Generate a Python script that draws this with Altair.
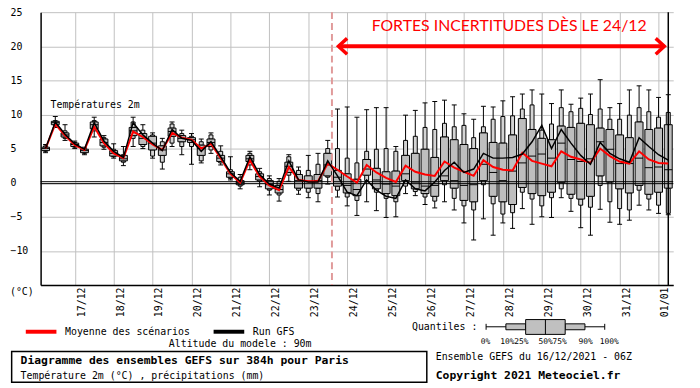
import altair as alt
import pandas as pd

# time steps (hours after 16/12/2021 06Z)
hours = list(range(0, 385, 6))

q_min = [4.4, 8.1, 6.2, 5.0, 4.1, 6.7, 4.9, 3.6, 2.5, 5.3,
         5.0, 3.6, 2.0, 5.3, 4.1, 2.7, 2.9, 4.3, 2.6, 0.4,
         -0.9, 1.9, -0.6, -1.8, -2.7, 0.2, -1.7, -2.2, -2.8, -0.2,
         -2.1, -3.4, -4.8, -2.8, -4.1, -5.1, -5.0, -1.6, -1.9, -3.2,
         -3.7, -2.8, -4.0, -5.9, -8.4, -5.3, -7.7, -5.9, -6.7, -3.8,
         -6.1, -5.0, -5.1, -2.2, -4.2, -6.6, -7.7, -3.9, -5.8, -6.1,
         -5.5, -3.3, -4.0, -4.5, -4.7]
q10 = [4.6, 8.4, 6.5, 5.2, 4.3, 7.6, 5.2, 3.8, 3.0, 6.5,
       5.3, 3.9, 3.0, 5.8, 5.3, 5.3, 3.2, 4.8, 2.9, 0.6,
       -0.5, 2.6, 0.2, -1.1, -1.8, 1.1, -1.1, -1.4, -1.6, 0.8,
       -1.1, -2.1, -2.6, 0.3, -1.4, -2.3, -2.8, -0.5, -1.3, -2.1,
       -2.7, -0.3, -2.3, -3.4, -4.0, -0.3, -3.1, -4.6, -4.4, -1.4,
       -2.4, -3.4, -2.2, -0.9, -2.3, -3.3, -3.6, -0.4, -2.8, -3.8,
       -4.0, -1.1, -2.4, -3.3, -4.5]
q25 = [4.7, 8.5, 6.7, 5.3, 4.4, 7.9, 5.4, 3.9, 3.2, 6.9,
       5.6, 4.8, 4.0, 6.8, 6.0, 5.9, 4.0, 5.3, 3.1, 0.8,
       -0.3, 3.1, 0.4, -0.9, -1.5, 1.5, -0.8, -0.8, -0.8, 1.0,
       -0.5, -1.5, -1.9, 1.1, -0.9, -1.6, -1.9, 0.3, -0.9, -1.6,
       -2.0, 0.3, -0.8, -2.6, -2.8, 0.3, -2.0, -2.8, -3.2, -0.7,
       -1.6, -1.9, -1.4, 0.0, -1.7, -2.4, -2.0, 1.0, 0.1, -0.9,
       -1.5, -0.4, -1.7, -1.4, -0.8]
q50 = [5.0, 8.8, 7.0, 5.6, 4.7, 8.5, 5.9, 4.3, 3.5, 7.6,
       6.5, 5.8, 4.8, 7.5, 6.5, 6.3, 5.0, 5.9, 3.6, 1.3,
       0.0, 3.5, 0.9, -0.3, -1.0, 2.4, 0.3, 0.2, 0.3, 2.6,
       0.8, -0.4, -1.0, 2.0, 0.4, -0.2, -0.5, 1.3, 0.1, -0.5,
       -0.4, 1.0, 0.3, -0.4, -0.3, 2.7, 1.5, 0.3, 1.7, 2.9,
       3.9, 4.2, 3.6, 5.8, 3.4, 3.1, 3.5, 6.0, 4.9, 2.8,
       2.8, 3.6, 2.2, 2.3, 1.9]
q75 = [5.2, 9.0, 7.3, 5.8, 4.9, 8.9, 6.4, 4.7, 4.0, 8.1,
       7.2, 6.8, 5.4, 8.0, 6.9, 6.6, 5.5, 6.4, 4.0, 1.6,
       0.3, 4.0, 1.3, 0.3, -0.4, 3.0, 1.2, 1.0, 1.2, 4.3,
       1.8, 1.3, 0.5, 3.4, 2.1, 1.6, 1.7, 4.0, 4.3, 4.9,
       3.7, 6.7, 6.3, 5.6, 5.0, 7.3, 5.9, 5.8, 7.0, 9.4,
       7.8, 6.5, 6.3, 8.3, 8.1, 8.7, 8.5, 8.0, 7.8, 7.0,
       6.6, 8.9, 7.8, 8.0, 8.5]
q90 = [5.4, 9.1, 7.6, 5.9, 5.0, 9.1, 6.6, 4.9, 4.1, 8.9,
       7.7, 7.0, 6.0, 8.6, 7.2, 6.8, 6.0, 7.0, 4.6, 1.9,
       0.8, 4.3, 1.6, 0.6, 0.2, 3.8, 1.8, 1.8, 2.7, 5.0,
       5.0, 3.6, 2.9, 4.6, 4.9, 5.0, 4.6, 6.2, 6.8, 8.1,
       7.8, 8.7, 8.2, 8.4, 6.6, 8.2, 9.3, 9.7, 9.8, 10.8,
       11.4, 7.7, 8.6, 11.0, 10.4, 10.9, 10.0, 10.8, 9.3, 9.3,
       9.9, 11.0, 10.4, 9.6, 10.3]
q_max = [5.6, 9.7, 8.5, 6.1, 5.2, 9.6, 6.9, 5.7, 5.3, 9.6,
         8.5, 7.3, 6.5, 8.9, 7.7, 7.2, 6.4, 7.3, 5.4, 3.8,
         1.2, 4.6, 2.1, 1.0, 0.6, 4.1, 2.3, 4.0, 4.3, 6.2,
         10.8, 11.1, 9.6, 10.7, 11.0, 11.0, 5.3, 9.9, 10.6, 11.7,
         11.9, 12.1, 11.4, 10.1, 9.3, 11.2, 11.1, 12.0, 12.6, 13.0,
         13.6, 13.0, 11.6, 13.6, 11.5, 12.4, 13.0, 15.1, 11.0, 11.6,
         13.6, 14.2, 13.6, 12.5, 12.9]
ens_mean = [5.0, 8.6, 6.9, 5.5, 4.8, 8.2, 5.8, 4.3, 3.6, 7.5,
            6.7, 5.6, 4.8, 7.3, 6.6, 6.3, 5.0, 5.7, 3.6, 1.3,
            0.0, 3.3, 0.9, -0.4, -1.1, 2.3, 0.4, 0.2, 0.2, 2.8,
            1.9, 0.9, 0.0, 2.6, 1.5, 0.7, 0.1, 2.5, 1.6, 1.2,
            1.0, 3.1, 2.2, 1.6, 1.0, 3.3, 2.3, 1.9, 1.8, 4.4,
            3.2, 2.8, 2.4, 4.6, 3.8, 3.4, 2.9, 5.0, 3.9, 3.1,
            2.8, 4.6, 3.4, 2.9, 2.8]
run_gfs = [5.0, 8.9, 7.1, 5.7, 4.9, 8.8, 6.1, 4.6, 3.7, 8.8,
           7.0, 5.8, 4.7, 7.8, 6.5, 6.2, 4.6, 6.0, 3.8, 1.5,
           0.2, 3.8, 1.2, -0.2, -0.8, 3.2, 0.4, 0.1, 0.1, 3.2,
           1.0, -1.4, -1.9, 0.4, -1.1, -2.0, -2.3, 0.4, -0.9, -1.2,
           0.1, 1.8, 3.0, 1.5, 2.0, 4.3, 3.6, 3.6, 3.7, 4.2,
           6.0, 8.4, 5.0, 7.8, 5.8, 4.0, 2.7, 5.9, 4.3, 3.5,
           3.0, 6.6, 5.3, 4.1, 3.3]

day_labels = ["17/12", "18/12", "19/12", "20/12", "21/12", "22/12", "23/12",
              "24/12", "25/12", "26/12", "27/12", "28/12", "29/12", "30/12",
              "31/12", "01/01"]
day_ticks = [18 + 24 * k for k in range(len(day_labels))]
y_ticks = [-15, -10, -5, 0, 5, 10, 15, 20, 25]

dash_hour = [176.6]
arrow_from = [180.6]
arrow_to = [381.6]
arrow_level = [20]
quant_labels = ["0%", "10%", "25%", "50%", "75%", "90%", "100%"]

MONO = "DejaVu Sans Mono"
RED = "#ff0000"
PT = 2  # top padding

df = pd.DataFrame(dict(h=hours, mn=q_min, p10=q10, p25=q25, p50=q50, p75=q75,
                       p90=q90, mx=q_max, mean=ens_mean, run=run_gfs))

xs = alt.Scale(domain=[0, 384], nice=False, zero=False)
ys = alt.Scale(domain=[-15, 25], nice=False, zero=False)

lab_arr = "[" + ",".join("'%s'" % d for d in day_labels) + "]"
xaxis = alt.Axis(values=day_ticks, labelExpr=lab_arr + "[round((datum.value - 18) / 24)]",
                 labelAngle=270, labelAlign="right", labelBaseline="middle",
                 labelOffset=6.5, labelPadding=2, ticks=False, grid=True,
                 gridColor="#c0c0c0", gridWidth=1, domainColor="black", domainWidth=1.5,
                 labelFont=MONO, labelFontSize=10, labelColor="black", title=None,
                 labelOverlap=False, labelFlush=False)
yaxis = alt.Axis(values=y_ticks, labelExpr="datum.value == -15 ? '' : datum.label",
                 labelAlign="left", labelBaseline="middle", labelPadding=31,
                 ticks=False, grid=True, gridColor="#c0c0c0", gridWidth=1,
                 domainColor="black", domainWidth=1.5, labelFont=MONO, labelFontSize=10,
                 labelColor="black", title=None, labelOverlap=False, labelFlush=True)


def X(f):
    return alt.X(f, type="quantitative", scale=xs, axis=xaxis)


def Y(f):
    return alt.Y(f, type="quantitative", scale=ys, axis=yaxis)


base = alt.Chart(df)
layers = []
layers.append(base.mark_rule(color="black", strokeWidth=1).encode(x=X("h"), y=Y("mn"), y2=alt.Y2("mx")))
layers.append(base.mark_tick(orient="horizontal", size=5, thickness=1, color="black", opacity=1)
              .encode(x=X("h"), y=Y("mn")))
layers.append(base.mark_tick(orient="horizontal", size=5, thickness=1, color="black", opacity=1)
              .encode(x=X("h"), y=Y("mx")))
layers.append(base.mark_bar(size=4, fill="#d4d4d4", stroke="black", strokeWidth=1, opacity=1)
              .encode(x=X("h"), y=Y("p10"), y2=alt.Y2("p25")))
layers.append(base.mark_bar(size=4, fill="#d4d4d4", stroke="black", strokeWidth=1, opacity=1)
              .encode(x=X("h"), y=Y("p75"), y2=alt.Y2("p90")))
layers.append(base.mark_bar(size=8, fill="#bebebe", stroke="black", strokeWidth=1, opacity=1)
              .encode(x=X("h"), y=Y("p25"), y2=alt.Y2("p75")))
layers.append(base.mark_tick(orient="horizontal", size=8, thickness=1, color="black", opacity=1)
              .encode(x=X("h"), y=Y("p50")))

zero_df = pd.DataFrame({"v": [0]})
layers.append(alt.Chart(zero_df).mark_rule(color="black", strokeWidth=1, yOffset=-1).encode(y=Y("v")))
layers.append(alt.Chart(zero_df).mark_rule(color="black", strokeWidth=1, yOffset=1).encode(y=Y("v")))

layers.append(alt.Chart(pd.DataFrame({"h": dash_hour})).mark_rule(
    color="#e09a9a", strokeWidth=2, strokeDash=[7, 4]).encode(x=X("h")))
layers.append(alt.Chart(pd.DataFrame({"h": [384]})).mark_rule(
    color="black", strokeWidth=1.5).encode(x=X("h")))

layers.append(base.mark_line(color=RED, strokeWidth=2).encode(x=X("h"), y=Y("mean")))
layers.append(base.mark_line(color="black", strokeWidth=1.5).encode(x=X("h"), y=Y("run")))

arrow_df = pd.DataFrame({"h": arrow_from, "h2": arrow_to, "v": arrow_level})
layers.append(alt.Chart(arrow_df).mark_rule(color=RED, strokeWidth=4)
              .encode(x=X("h"), x2=alt.X2("h2"), y=Y("v")))
layers.append(alt.Chart(pd.DataFrame({"h": arrow_from, "v": arrow_level})).mark_point(
    shape="M1.1,-1L0,0L1.1,1", size=256, filled=False, strokeWidth=3.5, color=RED, opacity=1)
    .encode(x=X("h"), y=Y("v")))
layers.append(alt.Chart(pd.DataFrame({"h": arrow_to, "v": arrow_level})).mark_point(
    shape="M-1.1,-1L0,0L-1.1,1", size=256, filled=False, strokeWidth=3.5, color=RED, opacity=1)
    .encode(x=X("h"), y=Y("v")))

one = pd.DataFrame({"a": [0]})


def txt(s, x, y, size=10, bold=False, align="left", color="black", font=MONO):
    return alt.Chart(one).mark_text(align=align, baseline="middle", font=font, fontSize=size,
                                    fontWeight="bold" if bold else "normal", color=color).encode(
        text=alt.value(s), x=alt.value(x), y=alt.value(y - PT))


def hrule(x1, x2, y, color="black", w=1):
    return alt.Chart(one).mark_rule(color=color, strokeWidth=w).encode(
        x=alt.value(x1), x2=alt.value(x2), y=alt.value(y - PT))


def vrule(x, y1, y2, color="black", w=1):
    return alt.Chart(one).mark_rule(color=color, strokeWidth=w).encode(
        x=alt.value(x), y=alt.value(y1 - PT), y2=alt.value(y2 - PT))


def rect(x1, x2, y1, y2, fill, w=1):
    return alt.Chart(one).mark_rect(fill=fill, stroke="black", strokeWidth=w).encode(
        x=alt.value(x1), x2=alt.value(x2), y=alt.value(y1 - PT), y2=alt.value(y2 - PT))


layers.append(txt("FORTES INCERTITUDES DÈS LE 24/12", 474, 15.7, size=16, color=RED,
                  align="center", font="Lato"))
layers.append(txt("Températures 2m", 10, 96))
layers.append(txt("(°C)", -31, 284.7))

# legend lines
layers.append(hrule(-15, 16, 325.3, RED, 4))
layers.append(txt("Moyenne des scénarios", 24.7, 325.3))
layers.append(hrule(175, 206, 325.3, "black", 4))
layers.append(txt("Run GFS", 214.7, 325.3))
layers.append(txt("Altitude du modele : 90m", 129.7, 338))

# title box
layers.append(rect(-29.3, 390.7, 345.3, 376.3, "white", 1.5))
layers.append(txt("Diagramme des ensembles GEFS sur 384h pour Paris", -20.3, 354.7, size=11.5, bold=True))
layers.append(txt("Température 2m (°C) , précipitations (mm)", -20.3, 370.3))

# quantile legend
layers.append(txt("Quantiles :", 375.7, 320.3))
layers.append(hrule(450.7, 570.7, 320.3))
layers.append(vrule(450.7, 317.3, 323.3))
layers.append(vrule(570.7, 317.3, 323.3))
layers.append(rect(470.7, 490.7, 317.3, 323.3, "#c0c0c0"))
layers.append(rect(530.7, 550.7, 317.3, 323.3, "#c0c0c0"))
layers.append(rect(490.7, 530.7, 313, 328, "#c0c0c0"))
layers.append(vrule(510.7, 313, 328))
for lab, cx in zip(quant_labels, [450.2, 472.3, 486.5, 511, 525, 551.3, 575.3]):
    layers.append(txt(lab, cx, 335.7, size=8, align="center"))

layers.append(txt("Ensemble GEFS du 16/12/2021 - 06Z", 399.7, 350.7))
layers.append(txt("Copyright 2021 Meteociel.fr", 399.7, 369.7, size=11.5, bold=True))

chart = alt.layer(*layers).properties(
    width=640, height=278 - PT,
    autosize=alt.AutoSizeParams(type="none"),
    padding={"left": 33, "top": PT, "right": 19, "bottom": 102},
).configure(background="white").configure_view(stroke=None)

chart.save("out.html", embed_options={"renderer": "svg", "actions": False})
